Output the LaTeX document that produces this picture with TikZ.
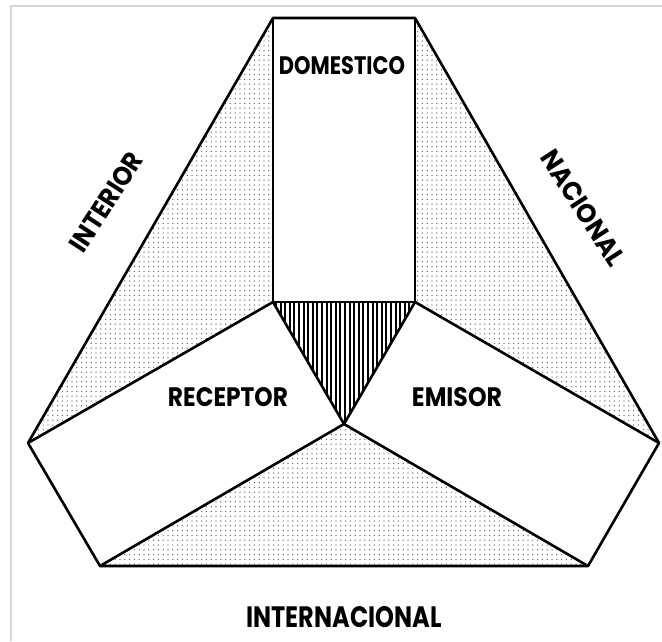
\documentclass[tikz,border=0pt]{standalone}
\usepackage{fontspec}
\setmainfont{Poppins}
\usetikzlibrary{patterns.meta}
\tikzset{
  edge/.style={line width=2.6pt, line join=round, draw=black},
  dotfill/.style={pattern={Dots[distance=4.8pt, radius=0.7pt]}, pattern color=black!60},
  hatchfill/.style={pattern={Lines[angle=90, distance=4.6pt, line width=2pt]}, pattern color=black},
  lbl/.style={inner sep=0pt, font=\bfseries},
  frameline/.style={draw=black!16, line width=1.8pt}
}
\begin{document}
\begin{tikzpicture}[x=1pt, y=-1pt]
\useasboundingbox (0,0) rectangle (662,641);
% light frame
\coordinate (f1) at (11,641);
\coordinate (f2) at (11,6);
\coordinate (f3) at (662,6);
\draw[frameline] (f1) -- (f2) -- (f3);
% key points
\coordinate (A) at (273,18);
\coordinate (B) at (415,18);
\coordinate (C) at (415,302);
\coordinate (D) at (273,302);
\coordinate (O) at (344,424);
\coordinate (L) at (28,443);
\coordinate (R) at (659,443);
\coordinate (BL) at (100,566);
\coordinate (BR) at (588,566);
% dotted regions
\fill[dotfill] (A) -- (D) -- (L) -- cycle;
\fill[dotfill] (B) -- (C) -- (R) -- cycle;
\fill[dotfill] (O) -- (BL) -- (BR) -- cycle;
% hatched triangle
\fill[hatchfill] (D) -- (C) -- (O) -- cycle;
% outlines
\draw[edge] (A) -- (B) -- (R) -- (BR) -- (BL) -- (L) -- cycle;
\draw[edge] (A) -- (D) -- (C) -- (B);
\draw[edge] (D) -- (O) -- (C);
\draw[edge] (D) -- (L);
\draw[edge] (C) -- (R);
\draw[edge] (O) -- (BL);
\draw[edge] (O) -- (BR);
% labels
\node[lbl] (dom) at (342,66) {\resizebox{126pt}{18pt}{DOMESTICO}};
\node[lbl] (rec) at (228,397) {\resizebox{120pt}{19pt}{RECEPTOR}};
\node[lbl] (emi) at (457,397) {\resizebox{90pt}{19pt}{EMISOR}};
\node[lbl] (int) at (344,617) {\resizebox{195pt}{21pt}{INTERNACIONAL}};
\node[lbl, rotate=57] (inte) at (106,202) {\resizebox{112pt}{19pt}{INTERIOR}};
\node[lbl, rotate=-57] (nac) at (583,208) {\resizebox{132pt}{19pt}{NACIONAL}};
\end{tikzpicture}
\end{document}
